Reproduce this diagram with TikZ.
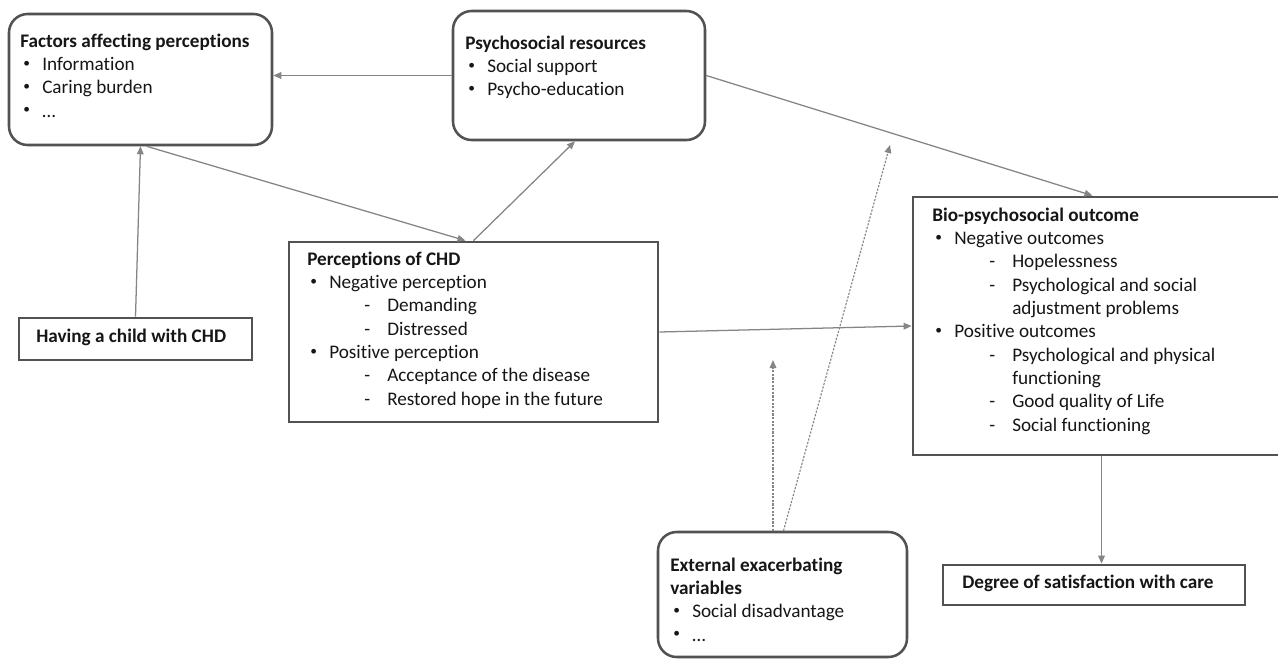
\documentclass[tikz,border=0pt]{standalone}
\usepackage{fontspec}
\usepackage{graphicx}
\setmainfont{Carlito}[Ligatures=NoCommon]
\usetikzlibrary{arrows.meta,fit,calc}
\definecolor{boxc}{HTML}{525252}
\definecolor{linec}{HTML}{858585}
\definecolor{txtc}{HTML}{161616}
\newcommand{\smallbul}{\raisebox{0.35ex}{\scalebox{0.7}{\textbullet}}}
\newcommand{\bitem}[1]{\hspace*{2.25pt}\makebox[14.25pt][l]{\smallbul}#1}
\newcommand{\sitem}[1]{\hspace*{42.75pt}\makebox[17.25pt][l]{-}#1}
\newcommand{\contline}[1]{\hspace*{60pt}#1}
\newcommand{\boxtext}[1]{\parbox[t]{330pt}{\fontsize{14.4}{17.5}\selectfont\raggedright #1}}
\tikzset{
  rbox/.style={draw=boxc, line width=1.9pt, rounded corners=14pt, inner sep=0pt},
  sbox/.style={draw=boxc, line width=2.1pt, inner sep=0pt},
  txt/.style={anchor=base west, inner sep=0pt, text=txtc, font=\fontsize{14.4}{17.5}\selectfont},
  conn/.style={draw=linec, line width=0.95pt, -{Triangle[length=6pt,width=5pt]}},
  dots/.style={draw=linec, line width=0.85pt, dash pattern=on 1.6pt off 1.1pt, -{Triangle[length=6pt,width=5pt]}}
}
\begin{document}
\begin{tikzpicture}[x=0.75pt,y=-0.75pt]
\useasboundingbox (0,0) rectangle (1278,658);
\clip (0,0) rectangle (1278,658);
\fill[white] (0,0) rectangle (1278,658);

% boxes
\node[rbox, fit={(9,14) (272,145)}] (fac) {};
\node[rbox, fit={(453,11) (705,140)}] (psy) {};
\node[sbox, fit={(289,242) (658,422)}] (per) {};
\node[sbox, fit={(19,318) (252,360)}] (hav) {};
\node[sbox, fit={(913,197) (1290,455)}] (bio) {};
\node[sbox, fit={(943,565) (1245,605)}] (deg) {};
\node[rbox, fit={(658,532) (907,657)}] (ext) {};

% texts
\node[txt] (factxt) at (20,47) {\boxtext{\textbf{Factors affecting perceptions}\\
\bitem{Information}\\
\bitem{Caring burden}\\
\bitem{…}}};

\node[txt] (psytxt) at (465,49) {\boxtext{\textbf{Psychosocial resources}\\
\bitem{Social support}\\
\bitem{Psycho-education}}};

\node[txt] (pertxt) at (307,265) {\boxtext{\textbf{Perceptions of CHD}\\
\bitem{Negative perception}\\
\sitem{Demanding}\\
\sitem{Distressed}\\
\bitem{Positive perception}\\
\sitem{Acceptance of the disease}\\
\sitem{Restored hope in the future}}};

\node[txt] (havtxt) at (36,342) {\textbf{Having a child with CHD}};

\node[txt] (biotxt) at (932,221) {\boxtext{\textbf{Bio-psychosocial outcome}\\
\bitem{Negative outcomes}\\
\sitem{Hopelessness}\\
\sitem{Psychological and social}\\
\contline{adjustment problems}\\
\bitem{Positive outcomes}\\
\sitem{Psychological and physical}\\
\contline{functioning}\\
\sitem{Good quality of Life}\\
\sitem{Social functioning}}};

\node[txt] (degtxt) at (962,588) {\textbf{Degree of satisfaction with care}};

\node[txt] (exttxt) at (670,571) {\boxtext{\textbf{External exacerbating}\\
\textbf{variables}\\
\bitem{Social disadvantage}\\
\bitem{…}}};

% connectors
\draw[conn] (psy.west) -- (psy.west -| fac.east);
\draw[conn] (hav.north) -- (fac.south);
\draw[conn] ($(fac.south)+(6,0)$) -- ($(per.north)+(-8,0)$);
\draw[conn] (per.north) -- ($(psy.south)+(-4,0)$);
\draw[conn] (psy.east) -- ($(bio.north)+(-9,0)$);
\draw[conn] (per.east) -- (bio.west);
\draw[conn] (bio.south) -- (bio.south |- deg.north);

\coordinate (d1) at (773,360);
\coordinate (d2) at (890,145);
\draw[dots] ($(ext.north)+(-9.5,0)$) -- (d1);
\draw[dots] ($(ext.north)+(1,0)$) -- (d2);
\end{tikzpicture}
\end{document}
